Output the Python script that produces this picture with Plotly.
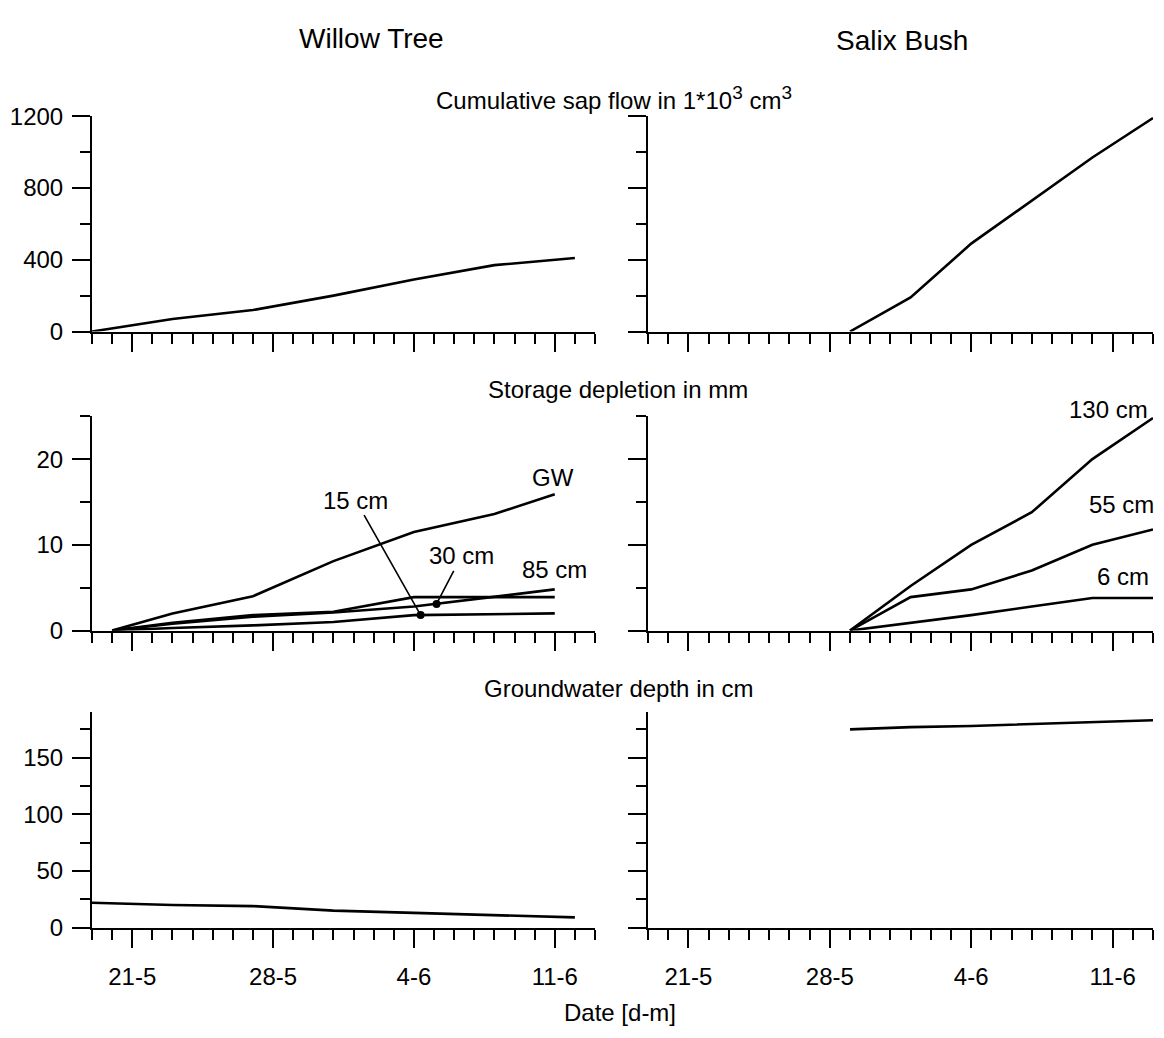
import plotly.graph_objects as go

# ---------------- data ----------------
willow_sap_dates = ['2009-05-19', '2009-05-23', '2009-05-27', '2009-05-31', '2009-06-04', '2009-06-08', '2009-06-12']
willow_sap_values = [0, 70, 120, 200, 290, 370, 410]

willow_depl_dates = ['2009-05-20', '2009-05-23', '2009-05-27', '2009-05-31', '2009-06-04', '2009-06-08', '2009-06-11']
willow_gw = [0, 2.0, 4.0, 8.1, 11.5, 13.6, 15.9]
willow_85cm = [0, 0.9, 1.8, 2.2, 3.9, 3.9, 3.9]
willow_30cm = [0, 0.8, 1.6, 2.1, 2.8, 3.9, 4.8]
willow_15cm = [0, 0.3, 0.6, 1.0, 1.8, 1.9, 2.0]

willow_marker_dates = ['2009-06-04 08:00', '2009-06-05 03:00']
willow_marker_values = [1.8, 3.1]
willow_marker_labels = ['15 cm', '30 cm']

willow_gwdepth_dates = ['2009-05-19', '2009-05-23', '2009-05-27', '2009-05-31', '2009-06-04', '2009-06-08', '2009-06-12']
willow_gwdepth = [22, 20, 19, 15, 13, 11, 9]

salix_dates = ['2009-05-29', '2009-06-01', '2009-06-04', '2009-06-07', '2009-06-10', '2009-06-13']
salix_sap = [0, 190, 490, 730, 970, 1190]
salix_130cm = [0, 5.2, 10.0, 13.8, 20.0, 24.8]
salix_55cm = [0, 3.9, 4.8, 7.0, 10.0, 11.8]
salix_6cm = [0, 0.9, 1.8, 2.8, 3.8, 3.8]
salix_gwdepth = [175, 177, 178, 179.5, 181, 183]

x_range = ['2009-05-19', '2009-06-13']
panel_titles = ['Cumulative sap flow in 1*10<sup><span style="font-size:19px">3</span></sup> '
                'cm<sup><span style="font-size:19px">3</span></sup>',
                'Storage depletion in mm', 'Groundwater depth in cm']
column_titles = ['Willow Tree', 'Salix Bush']

# ---------------- layout helpers ----------------
W, H = 1164, 1038
FONT = 'Liberation Sans, Arial, sans-serif'


def px(x):
    return x / W


def py(y):
    return 1 - y / H


LW = 2.6
fig = go.Figure()


def line(xs, ys, n, name):
    fig.add_trace(go.Scatter(x=xs, y=ys, mode='lines', name=name,
                             line=dict(color='black', width=LW),
                             xaxis='x' + ('' if n == 1 else str(n)),
                             yaxis='y' + ('' if n == 1 else str(n)),
                             showlegend=False, hoverinfo='skip'))


# top row
line(willow_sap_dates, willow_sap_values, 1, 'Willow sap flow')
line(salix_dates, salix_sap, 2, 'Salix sap flow')
# middle row
line(willow_depl_dates, willow_gw, 3, 'GW')
line(willow_depl_dates, willow_85cm, 3, '85 cm')
line(willow_depl_dates, willow_30cm, 3, '30 cm')
line(willow_depl_dates, willow_15cm, 3, '15 cm')
fig.add_trace(go.Scatter(x=willow_marker_dates, y=willow_marker_values, mode='markers',
                         marker=dict(color='black', size=8), xaxis='x3', yaxis='y3',
                         showlegend=False, hoverinfo='skip'))
line(salix_dates, salix_130cm, 4, '130 cm')
line(salix_dates, salix_55cm, 4, '55 cm')
line(salix_dates, salix_6cm, 4, '6 cm')
# bottom row
line(willow_gwdepth_dates, willow_gwdepth, 5, 'Willow GW depth')
line(salix_dates, salix_gwdepth, 6, 'Salix GW depth')

left_dom = [px(92), px(595)]
right_dom = [px(648), px(1153)]
row_doms = [[py(326), py(105)], [py(633), py(413)], [py(938), py(717)]]

y_specs = [
    dict(range=[0, 1200], dtick=400, minor_dtick=200),
    dict(range=[0, 25], dtick=10, minor_dtick=5),
    dict(range=[0, 190], dtick=50, minor_dtick=25),
]

layout = dict(
    width=W, height=H, margin=dict(l=0, r=0, t=0, b=0),
    paper_bgcolor='white', plot_bgcolor='white',
    font=dict(family=FONT, size=24, color='black'),
    showlegend=False,
)

for row in range(3):
    for col in range(2):
        n = row * 2 + col + 1
        sx = '' if n == 1 else str(n)
        spec = y_specs[row]
        layout['xaxis' + sx] = dict(
            domain=left_dom if col == 0 else right_dom,
            anchor='y' + sx, type='date', range=x_range,
            showline=True, linecolor='black', linewidth=2,
            showgrid=False, zeroline=False,
            ticks='outside', ticklen=18, tickwidth=2, tickcolor='black',
            tick0='2009-05-21', dtick=7 * 86400000, tickformat='%-d-%-m',
            showticklabels=(row == 2), ticklabelstandoff=9,
            minor=dict(ticks='outside', ticklen=10, tickwidth=2, tickcolor='black',
                       dtick=86400000, tick0='2009-05-19', showgrid=False),
            fixedrange=True,
        )
        layout['yaxis' + sx] = dict(
            domain=row_doms[row], anchor='x' + sx, range=spec['range'],
            showline=True, linecolor='black', linewidth=2,
            showgrid=False, zeroline=False,
            ticks='outside', ticklen=18, tickwidth=2, tickcolor='black',
            tick0=0, dtick=spec['dtick'], showticklabels=(col == 0),
            ticklabelstandoff=4,
            minor=dict(ticks='outside', ticklen=10, tickwidth=2, tickcolor='black',
                       dtick=spec['minor_dtick'], tick0=0, showgrid=False),
            fixedrange=True,
        )


def paper_text(text, x, y, size):
    return dict(text=text, x=px(x), y=py(y), xref='paper', yref='paper',
                xanchor='center', yanchor='middle', showarrow=False,
                font=dict(size=size))


annotations = [
    paper_text(column_titles[0], 372, 25, 28),
    paper_text(column_titles[1], 902, 27, 28),
    paper_text('Date [d-m]', 620, 1025, 24),
]
for t, yy, xx in zip(panel_titles, [86, 386, 692], [614, 618, 618]):
    annotations.append(paper_text(t, xx, yy, 24))

# curve labels (willow)
annotations.append(dict(text='GW', x=willow_depl_dates[-1], y=willow_gw[-1], xref='x3', yref='y3',
                        showarrow=False, yshift=17, xshift=-2))
annotations.append(dict(text='85 cm', x=willow_depl_dates[-1], y=willow_30cm[-1], xref='x3', yref='y3',
                        showarrow=False, yshift=20))
for d, v, lab, ax, ay in zip(willow_marker_dates, willow_marker_values, willow_marker_labels,
                             [-65, 25], [-115, -48]):
    annotations.append(dict(text=lab, x=d, y=v, xref='x3', yref='y3', showarrow=True,
                            arrowhead=0, arrowwidth=1.6, arrowcolor='black',
                            ax=ax, ay=ay, standoff=0))
# curve labels (salix)
annotations.append(dict(text='130 cm', x=salix_dates[-1], y=salix_130cm[-1], xref='x4', yref='y4',
                        showarrow=False, xanchor='right', xshift=-3, yshift=8))
annotations.append(dict(text='55 cm', x=salix_dates[-1], y=salix_55cm[-1], xref='x4', yref='y4',
                        showarrow=False, xanchor='right', xshift=3, yshift=25))
annotations.append(dict(text='6 cm', x=salix_dates[-1], y=salix_6cm[-1], xref='x4', yref='y4',
                        showarrow=False, xanchor='right', xshift=-2, yshift=21))

layout['annotations'] = annotations
fig.update_layout(**layout)
fig.write_html('out.html', config={'displayModeBar': False},
               post_script="document.body.style.margin='0';document.body.style.overflow='hidden';")
